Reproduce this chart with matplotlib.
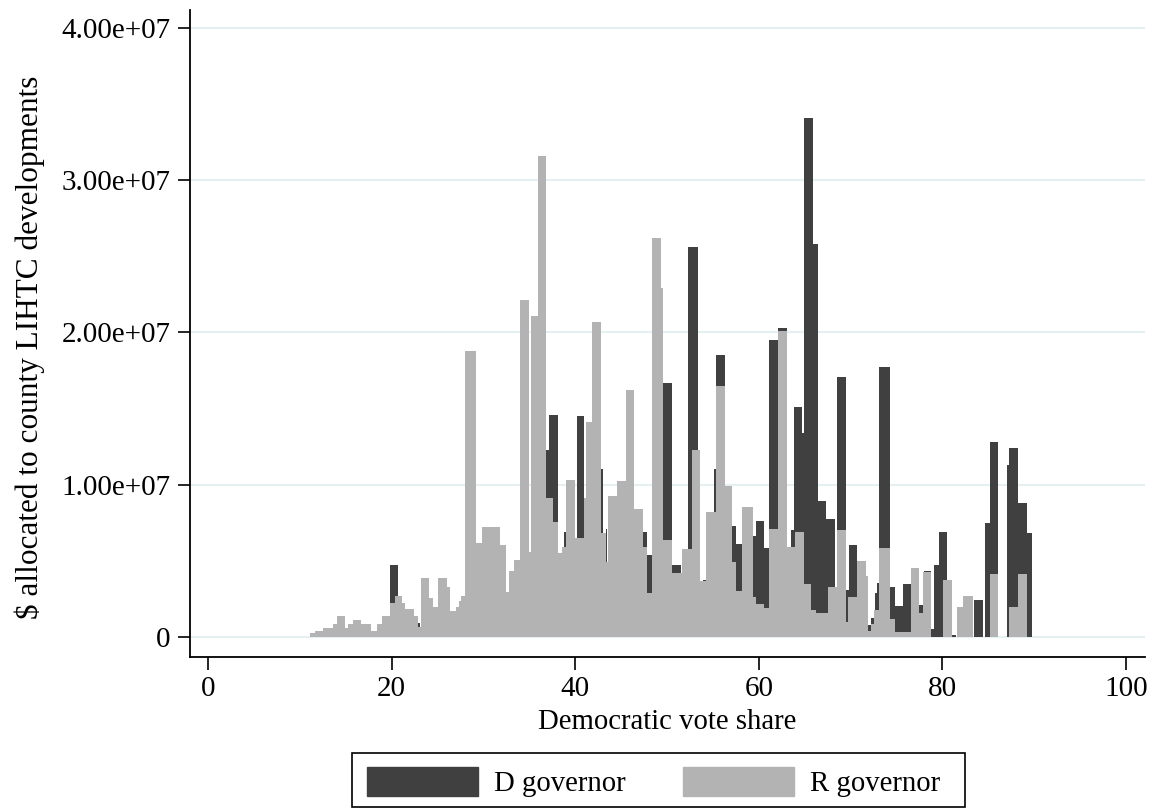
import matplotlib
matplotlib.use("Agg")
import matplotlib.pyplot as plt
from matplotlib.patches import Patch, Rectangle
from matplotlib.ticker import FixedLocator, FuncFormatter

plt.rcParams['font.family'] = ['Liberation Serif', 'DejaVu Serif']

# R governor (light bars): left edge of each visible step, height in $ millions
r_left = [11.1, 11.66, 12.56, 13.58, 14.0, 14.9, 15.3, 15.76, 16.67, 17.8,
          18.4, 19.0, 19.8, 20.4, 21.1, 21.5, 22.4, 22.9, 23.2, 24.1,
          24.5, 25.1, 26.05, 26.35, 27.0, 27.35, 27.55, 28.0, 29.2, 29.85,
          31.8, 32.5, 32.8, 33.3, 34.0, 35.0, 35.2, 35.9, 36.8, 37.6,
          38.1, 38.53, 39.0, 39.98, 40.96, 41.18, 41.87, 42.81, 43.32, 43.61,
          44.52, 45.5, 46.4, 47.42, 47.85, 48.4, 49.31, 49.6, 50.54, 51.6,
          52.7, 53.6, 54.3, 55.34, 56.28, 57.05, 57.48, 58.2, 59.4, 59.7,
          60.6, 61.1, 62.06, 63.04, 63.9, 64.96, 65.7, 66.2, 67.57, 68.55,
          69.5, 69.75, 70.73, 71.68, 71.93, 72.19, 72.6, 73.13, 74.29, 74.84,
          75.7, 76.6, 77.5, 77.9, 78.8, 80.1, 81.1, 81.55, 82.2, 83.3,
          85.19, 86.1, 87.3, 88.27]
r_val = [0.26, 0.4, 0.6, 0.85, 1.4, 0.6, 0.85, 1.1, 0.85, 0.4,
         0.85, 1.4, 2.2, 2.7, 2.25, 1.84, 1.35, 0.68, 3.85, 2.55,
         2.0, 3.85, 3.3, 1.72, 2.0, 2.35, 2.72, 18.8, 6.2, 7.2,
         6.04, 2.98, 4.3, 5.03, 22.1, 5.56, 21.1, 31.6, 9.1, 7.57,
         5.5, 5.93, 10.3, 6.48, 9.1, 14.1, 20.7, 6.8, 4.9, 9.26,
         10.27, 16.2, 8.4, 5.93, 2.87, 26.2, 22.9, 6.37, 4.2, 5.78,
         12.3, 3.65, 8.23, 16.46, 9.92, 4.95, 3.04, 8.52, 2.6, 2.17,
         1.88, 7.07, 20.1, 5.89, 6.9, 3.5, 1.77, 1.55, 3.25, 7.0,
         1.0, 2.6, 5.01, 4.0, 0.41, 0.86, 1.8, 5.85, 1.17, 0.3,
         0.35, 4.55, 1.55, 4.25, 0.0, 3.72, 0.0, 2.0, 2.69, 0.0,
         4.15, 0.0, 2.0, 4.15]
r_end = 89.25

# D governor (dark bars)
d_left = [19.8, 20.7, 22.9, 23.05, 36.8, 37.1, 38.1, 38.78, 39.0, 40.23,
          40.96, 42.81, 43.07, 43.32, 43.5, 47.42, 47.85, 48.4, 49.6, 50.54,
          51.49, 52.25, 53.42, 53.89, 54.3, 55.12, 55.34, 56.28, 57.05, 57.5,
          58.24, 59.4, 59.7, 60.57, 61.1, 62.06, 63.04, 63.5, 63.8, 64.74,
          64.96, 65.94, 66.41, 67.32, 68.3, 68.55, 69.5, 69.86, 70.73, 71.93,
          72.19, 72.66, 72.9, 73.13, 74.29, 74.84, 75.7, 76.7, 77.5, 77.99,
          78.8, 79.1, 79.66, 80.5, 81.1, 81.5, 83.44, 84.39, 84.64, 85.19,
          86.1, 87.07, 87.3, 88.27, 89.25]
d_val = [4.7, 0.0, 0.95, 0.0, 12.3, 14.6, 0.0, 6.9, 0.0, 14.5,
         0.0, 11.0, 0.0, 7.1, 0.0, 6.9, 5.4, 0.0, 16.7, 4.75,
         0.0, 25.6, 0.0, 3.75, 0.0, 11.06, 18.5, 0.0, 7.3, 6.1,
         0.0, 6.6, 7.6, 5.87, 19.5, 20.3, 0.0, 7.0, 15.1, 13.4,
         34.1, 25.8, 8.9, 7.74, 0.0, 17.08, 3.1, 6.03, 0.0, 0.8,
         1.25, 2.9, 3.55, 17.76, 3.25, 2.05, 3.45, 0.0, 2.1, 4.35,
         0.5, 4.72, 6.9, 0.0, 0.12, 0.0, 2.43, 0.0, 7.47, 12.8,
         0.0, 11.3, 12.4, 8.8, 6.8]
d_end = 89.72

yticks = [0, 1e7, 2e7, 3e7, 4e7]
xticks = [0, 20, 40, 60, 80, 100]

dark = '#404040'
light = '#b3b3b3'

fig = plt.figure(figsize=(11.55, 8.11), dpi=100)
ax = fig.add_axes([0.1645, 0.19, 0.8268, 0.7977])

ax.stairs([v * 1e6 for v in d_val], d_left + [d_end], fill=True, color=dark, lw=0)
ax.stairs([v * 1e6 for v in r_val], r_left + [r_end], fill=True, color=light, lw=0)

for y in yticks:
    ax.axhline(y, color='#e6eff1', lw=1.5, zorder=0)

ax.set_xlim(-1.96, 102.07)
ax.set_ylim(-1.31e6, 4.118e7)
ax.yaxis.set_major_locator(FixedLocator(yticks))
ax.yaxis.set_major_formatter(FuncFormatter(lambda v, p: '0' if v == 0 else f'{v:.2e}'))
ax.xaxis.set_major_locator(FixedLocator(xticks))

ax.spines['top'].set_visible(False)
ax.spines['right'].set_visible(False)
ax.spines['left'].set_linewidth(1.3)
ax.spines['bottom'].set_linewidth(1.3)
ax.tick_params(axis='both', length=9, width=1.2, labelsize=21, pad=5)

ax.set_xlabel('Democratic vote share', fontsize=20.7, labelpad=5)
ax.set_ylabel('$ allocated to county LIHTC developments', fontsize=22.5)
ax.yaxis.set_label_coords(-0.152, 0.478)

# legend box
fig.patches.append(Rectangle((352 / 1155, 1 - 807 / 811), 613 / 1155, 54 / 811,
                             transform=fig.transFigure, fill=False, ec='black', lw=1.2))
handles = [Patch(color=dark), Patch(color=light)]
fig.legend(handles, ['D governor', 'R governor'], ncol=2, frameon=False,
           loc='center left', bbox_to_anchor=(353 / 1155, 1 - 782 / 811),
           borderpad=0, fontsize=20.7, handlelength=3.85, handleheight=1.15,
           handletextpad=0.55, columnspacing=2.0)

fig.savefig('out.png', dpi=100)
